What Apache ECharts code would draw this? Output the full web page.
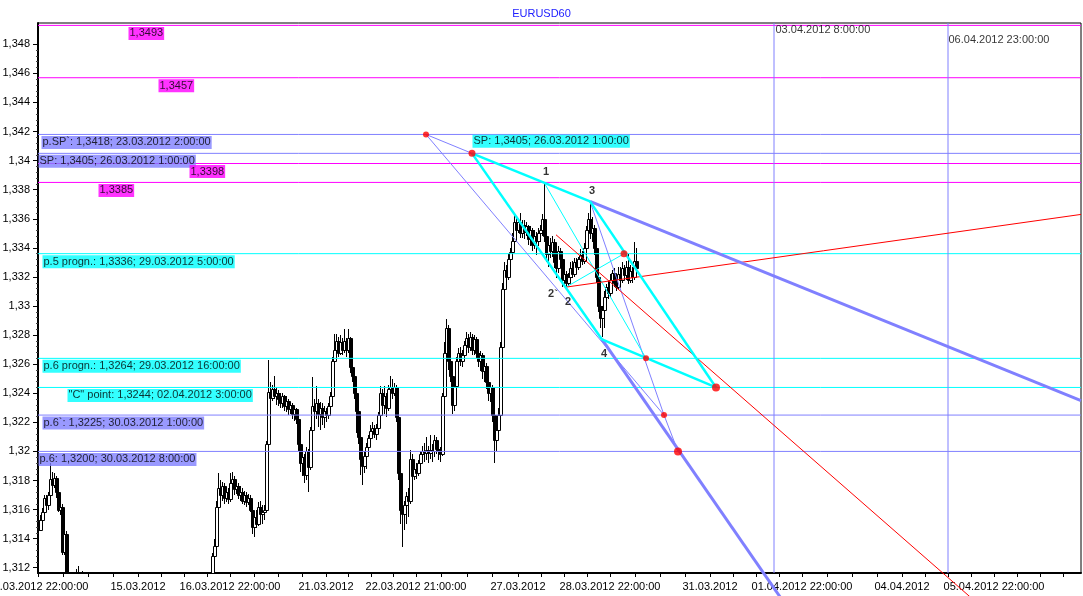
<!DOCTYPE html>
<html>
<head>
<meta charset="utf-8">
<script src="https://cdn.jsdelivr.net/npm/echarts@6/dist/echarts.min.js"></script>
<style>html,body{margin:0;padding:0;background:#fff}#c{width:1083px;height:596px}</style>
</head>
<body>
<div id="c"></div>
<script>
// ---------------- DATA ----------------
// Hourly bars (trading-hour index; weekends skipped). Segments of bars that are visible.
const barSegments = [[0,14],[19,20],[22,22],[69,69],[87,299]];
// Prices in pips above 1.3000 (e.g. 148 -> 1.3148)
const opens = [
153,146,153,158,168,163,170,181,177,182,172,160,162,131,143,
100,104,101,95,
100,128,135,162,175,170,176,168,172,167,
178,181,174,176,170,172,166,170,165,168,
160,148,155,150,162,157,158,160,205,241,
237,243,238,240,236,233,238,231,235,229,
232,226,229,222,205,192,196,184,200,189,
215,231,228,233,226,230,224,228,225,231,
238,262,270,276,268,275,270,276,270,278,
258,252,240,228,210,195,190,197,203,209,
214,216,212,216,225,240,232,238,230,243,
244,240,244,224,185,160,157,163,169,166,
195,183,188,185,192,198,200,199,201,199,
201,200,208,202,200,198,238,268,285,262,
252,232,245,262,268,262,266,273,278,272,
279,270,277,268,262,266,255,259,248,240,
244,225,208,215,225,272,312,325,320,332,
337,345,358,352,358,350,356,351,355,346,
352,342,348,345,350,352,360,348,336,342,
338,344,330,326,338,332,318,322,316,320,
326,322,330,327,332,335,331,340,352,360,
350,354,340,320,300,292,297,306,313,309,
318,323,316,313,322,318,326,321,327,318,
324,320,331];
const highs = [
155,156,161,170,170,172,192,186,185,183,174,165,164,150,145,
119,121,118,117,
130,140,166,185,180,179,178,174,175,185,
186,183,180,178,176,175,173,172,171,170,
162,158,160,165,166,163,163,207,263,248,
246,252,244,242,240,240,239,238,236,234,
233,231,230,224,208,199,198,203,202,217,
251,236,245,236,234,233,231,230,233,241,
265,281,281,279,280,278,284,278,284,279,
262,255,242,230,214,199,200,206,211,218,
220,218,219,227,245,243,245,240,246,252,
250,247,246,226,188,164,166,172,175,201,
198,190,192,194,200,204,206,210,204,211,
205,211,210,205,203,240,275,291,287,266,
255,248,265,271,272,270,276,282,281,282,
281,280,279,272,269,268,263,261,252,247,
246,228,220,230,275,316,330,328,336,340,
350,364,362,360,364,359,359,358,356,355,
354,352,351,354,356,363,385,351,345,347,
348,346,334,341,340,336,325,324,323,330,
331,333,333,334,339,338,343,355,364,372,
361,356,343,322,305,300,310,315,317,322,
325,326,320,327,327,330,328,331,336,328,
327,344,340];
const lows = [
144,145,150,156,160,160,168,173,175,168,158,156,129,129,105,
95,98,96,90,
95,125,133,160,165,166,164,165,164,165,
174,170,171,167,166,164,163,162,163,158,
143,141,147,149,152,150,153,158,203,234,
235,236,232,231,230,230,228,227,225,226,
222,221,219,200,186,183,178,180,172,187,
213,224,222,217,215,218,216,220,222,229,
236,259,266,265,266,266,268,265,268,254,
248,236,213,205,184,177,185,188,200,205,
210,209,208,213,222,229,226,224,228,239,
236,238,220,180,150,134,146,150,155,164,
180,180,181,183,188,192,193,194,192,195,
193,196,198,194,193,197,236,264,256,248,
226,228,240,258,259,258,262,270,268,269,
266,266,264,258,255,250,248,243,235,234,
220,192,200,210,222,270,308,316,318,328,
334,343,349,350,347,347,346,348,342,341,
338,339,335,341,344,348,344,330,327,333,
334,326,319,323,328,313,313,313,314,317,
319,320,324,325,330,328,329,336,348,346,
344,335,316,296,285,279,285,300,305,306,
314,313,310,311,314,316,318,318,315,316,
316,318,322];
const closes = [
146,153,158,168,163,170,181,177,182,172,160,162,131,143,110,
104,101,99,98,
128,135,162,175,170,176,168,172,167,178,
181,174,176,170,172,166,170,165,168,160,
148,155,150,162,157,158,160,205,241,237,
243,238,240,236,233,238,231,235,229,232,
226,229,222,205,192,196,184,200,189,215,
231,228,233,226,230,224,228,225,231,238,
262,270,276,268,275,270,276,270,278,258,
252,240,228,210,195,190,197,203,209,214,
216,212,216,225,240,232,238,230,243,244,
240,244,224,185,160,157,163,169,166,195,
183,188,185,192,198,200,199,201,199,201,
200,208,202,200,198,238,268,285,262,252,
232,245,262,268,262,266,273,278,272,279,
270,277,268,262,266,255,259,248,240,244,
225,208,215,225,272,312,325,320,332,337,
345,358,352,358,350,356,351,355,346,352,
342,348,345,350,352,360,348,336,342,338,
344,330,326,338,332,318,322,316,320,326,
322,330,327,332,335,331,340,352,360,350,
354,340,320,300,292,297,306,313,309,318,
323,316,313,322,318,326,321,327,318,324,
320,331,326];

// Axis ticks
const xTickHours = [0,50,96,144,189,240,286,336,382,432,478];
const xTickLabels = ['12.03.2012 22:00:00','15.03.2012','16.03.2012 22:00:00','21.03.2012','22.03.2012 21:00:00','27.03.2012','28.03.2012 22:00:00','31.03.2012','01.04.2012 22:00:00','04.04.2012','05.04.2012 22:00:00'];
const yTicks = [1.312,1.314,1.316,1.318,1.32,1.322,1.324,1.326,1.328,1.33,1.332,1.334,1.336,1.338,1.34,1.342,1.344,1.346,1.348];
const yTickLabels = ['1,312','1,314','1,316','1,318','1,32','1,322','1,324','1,326','1,328','1,33','1,332','1,334','1,336','1,338','1,34','1,342','1,344','1,346','1,348'];

// Horizontal levels
const levels = [1.3493,1.3457,1.3418,1.3405,1.3398,1.3385,1.3336,1.3264,1.3244,1.3225,1.3200];
const levelKind = ['m','m','b','b','m','m','c','c','c','b','b'];
const levelText = ['1,3493','1,3457','p.SP`: 1,3418; 23.03.2012 2:00:00','SP: 1,3405; 26.03.2012 1:00:00','1,3398','1,3385','p.5 progn.: 1,3336; 29.03.2012 5:00:00','p.6 progn.: 1,3264; 29.03.2012 16:00:00','"C" point: 1,3244; 02.04.2012 3:00:00','p.6`: 1,3225; 30.03.2012 1:00:00','p.6: 1,3200; 30.03.2012 8:00:00'];
const levelLabelHour = [45,60,1.5,0,75.5,30,2,2,14.5,2,0];

// Key points of the construction
const ptName  = ['pSP`','SP','1','2','3','4','p5','p6progn','p6`','p6','C'];
const ptHour  = [194,217,253,264,276,282,293,304,313,320,339];
const ptValue = [1.3418,1.3405,1.3385,1.3313,1.3372,1.3277,1.3336,1.3264,1.3225,1.3200,1.3244];
const redDots = ['pSP`','SP','p5','p6progn','p6`','p6','C'];

const thickCyanLines = [['SP','3'],['SP','4'],['4','C'],['3','C']];
const thinCyanLines  = [['1','p6progn'],['2','p5']];
const thinBlueLines  = [['pSP`','SP'],['pSP`','p6`'],['3','p6`'],['p6`','p6']];
const thickBlueRays  = [[[276,1.3372],[521.5,1.3235]],[[282,1.3277],[371,1.3100]]];
const redRays        = [[[259,1.3349],[466,1.3100]],[[264,1.3313],[521.5,1.3363]]];

const pointLabelText = ['1','2`','2','3','4'];
const pointLabelAt   = ['1','2','2','3','4'];

const vLineHours = [368,455];
const vLineText  = ['03.04.2012 8:00:00','06.04.2012 23:00:00'];

// ---------------- STYLE ----------------
const FONT = '"Liberation Sans", Arial, sans-serif';
const COL = {m:'#ff00ff', b:'#8080ff', c:'#00ffff', red:'#ff0000'};
const X_MIN = 0, X_MAX = 521.5;
const Y_MIN = 1.311638, Y_MAX = 1.349465;
const pointLabelOffset = [[2,-10],[-13,7],[2,15],[2,-10],[2,15]];
const vLineLabelOffset = [[1,7],[0,17]];
const dotSize = {'pSP`':6,'SP':7,'p5':7,'p6progn':6,'p6`':6,'p6':8,'C':8};
const BODY_W = 3;

// ---------------- BUILD ----------------
const hours = [];
barSegments.forEach(([a,b]) => { for (let h = a; h <= b; h++) hours.push(h); });
const pv = p => 1.3 + p / 10000;
const candles = hours.map((h,i) => [h, pv(opens[i]), pv(closes[i]), pv(lows[i]), pv(highs[i])]);
if (hours.length !== opens.length || opens.length !== highs.length || highs.length !== lows.length || lows.length !== closes.length) {
  console.error('length mismatch', hours.length, opens.length, highs.length, lows.length, closes.length);
}
const P = {};
ptName.forEach((n,i) => { P[n] = [ptHour[i], ptValue[i]]; });

const xTicksAll = [];
for (let i = 0; i < xTickHours.length - 1; i++) {
  const a = xTickHours[i], b = xTickHours[i+1];
  for (let k = 0; k < 4; k++) xTicksAll.push(a + (b - a) * k / 4);
}
{
  const last = xTickHours[xTickHours.length-1];
  const step = (last - xTickHours[xTickHours.length-2]) / 4;
  for (let t = last; t <= X_MAX; t += step) xTicksAll.push(t);
}
const yMinor = [];
for (let i = 0; i < yTicks.length - 1; i++) {
  for (let k = 1; k < 5; k++) yMinor.push(yTicks[i] + (yTicks[i+1] - yTicks[i]) * k / 5);
}

function renderCandle(params, api) {
  const cs = params.coordSys;
  const top = cs.y, bot = cs.y + cs.height;
  const h = api.value(0), o = api.value(1), c = api.value(2), l = api.value(3), hi = api.value(4);
  const cx = Math.round(api.coord([h, o])[0]) + 0.5;
  const yO = api.coord([h, o])[1], yC = api.coord([h, c])[1];
  const yL = api.coord([h, l])[1], yH = api.coord([h, hi])[1];
  const clamp = y => Math.max(top, Math.min(bot, y));
  if (yH > bot || yL < top) return null;
  const bTop = Math.round(clamp(Math.min(yO, yC))) + 0.5;
  const bBot = Math.round(clamp(Math.max(yO, yC))) + 0.5;
  const wTop = Math.round(clamp(yH)), wBot = Math.round(clamp(yL));
  const bear = c < o;
  const children = [];
  if (wTop < bTop) children.push({type:'line', shape:{x1:cx, y1:wTop, x2:cx, y2:bTop}, style:{stroke:'#000', lineWidth:1}});
  if (wBot > bBot) children.push({type:'line', shape:{x1:cx, y1:bBot, x2:cx, y2:wBot}, style:{stroke:'#000', lineWidth:1}});
  children.push({type:'rect', shape:{x:cx - 1, y:bTop, width:BODY_W, height:Math.max(bBot - bTop, 0)},
    style:{fill: bear ? '#000' : '#fff', stroke:'#000', lineWidth:1}});
  return {type:'group', children};
}

const series = [];
series.push({
  type:'custom', data:candles, renderItem:renderCandle, z:2, silent:true, clip:true,
  encode:{x:0, y:[1,2,3,4]}
});
levels.forEach((v,i) => series.push({
  type:'line', data:[[X_MIN,v],[X_MAX,v]], symbol:'none', silent:true, z:3,
  lineStyle:{color:COL[levelKind[i]], width:1}
}));
vLineHours.forEach(h => series.push({
  type:'line', data:[[h,Y_MIN],[h,Y_MAX]], symbol:'none', silent:true, z:3,
  lineStyle:{color:COL.b, width:1}
}));
function seg(list, color, width) {
  list.forEach(pair => series.push({
    type:'line', data:pair.map(p => Array.isArray(p) ? p : P[p]), symbol:'none', silent:true, z:4, clip:false,
    lineStyle:{color, width}
  }));
}
seg(thinBlueLines, COL.b, 1);
seg(thinCyanLines, COL.c, 1);
seg(redRays, COL.red, 1);
seg(thickBlueRays, COL.b, 3);
seg(thickCyanLines, COL.c, 2.5);
series.push({
  type:'scatter', z:6, silent:true,
  data: redDots.map(n => P[n]),
  symbolSize: (val, params) => dotSize[redDots[params.dataIndex]],
  itemStyle:{color:COL.red}
});
series.push({
  type:'scatter', z:7, silent:true, symbolSize:1,
  itemStyle:{color:'transparent'},
  data: levels.map((v,i) => ({
    value:[levelLabelHour[i], v],
    label:{backgroundColor:COL[levelKind[i]]}
  })),
  label:{
    show:true, position:'right', distance:0, offset:[0,8],
    formatter: p => levelText[p.dataIndex],
    color:'#000', fontSize:11, fontFamily:FONT, lineHeight:12, padding:[1,1,0,1]
  }
});
series.push({
  type:'scatter', z:7, silent:true, symbolSize:1, itemStyle:{color:'transparent'},
  data:[P['SP']],
  label:{show:true, position:'right', distance:0, offset:[0,-12], formatter:levelText[3],
    backgroundColor:COL.c, color:'#000', fontSize:11, fontFamily:FONT, lineHeight:12, padding:[1,1,0,1]}
});
series.push({
  type:'scatter', z:7, silent:true, symbolSize:1, itemStyle:{color:'transparent'},
  data: pointLabelAt.map((n,i) => ({value:P[n], label:{offset:pointLabelOffset[i]}})),
  label:{show:true, position:'inside', formatter:p => pointLabelText[p.dataIndex],
    color:'#000', fontSize:11, fontWeight:'bold', fontFamily:FONT}
});
series.push({
  type:'scatter', z:7, silent:true, symbolSize:1, itemStyle:{color:'transparent'},
  data: vLineHours.map((h,i) => ({value:[h, Y_MAX], label:{offset:vLineLabelOffset[i]}})),
  label:{show:true, position:'right', distance:0, formatter:p => vLineText[p.dataIndex],
    color:'#000', fontSize:11, fontFamily:FONT}
});

const chart = echarts.init(document.getElementById('c'), null, {renderer:'canvas'});
chart.setOption({
  animation:false,
  backgroundColor:'#ffffff',
  title:{text:'EURUSD60', left:'center', top:3, textStyle:{color:'#2020ff', fontSize:11, fontWeight:'normal', fontFamily:FONT}},
  grid:{left:38, right:2, top:23, bottom:23, show:true, borderColor:'#000', borderWidth:1, backgroundColor:'transparent',
        containLabel:false, outerBoundsMode:'none'},
  xAxis:{
    type:'value', min:X_MIN, max:X_MAX,
    axisLine:{show:true, onZero:false, lineStyle:{color:'#000', width:2}},
    axisTick:{show:true, customValues:xTicksAll, length:4, lineStyle:{color:'#000', width:1}},
    axisLabel:{customValues:xTickHours, formatter:v => { const i = xTickHours.indexOf(Math.round(v)); return i >= 0 ? xTickLabels[i] : ''; },
      color:'#000', fontSize:11, fontFamily:FONT, margin:8, hideOverlap:false},
    splitLine:{show:false}
  },
  yAxis:[{
    type:'value', min:Y_MIN, max:Y_MAX,
    axisLine:{show:true, onZero:false, lineStyle:{color:'#000', width:2}},
    axisTick:{show:true, customValues:yTicks, length:5, lineStyle:{color:'#000', width:1}},
    axisLabel:{customValues:yTicks, formatter:v => { let best=0; yTicks.forEach((t,i)=>{ if (Math.abs(t-v) < Math.abs(yTicks[best]-v)) best=i; }); return yTickLabels[best]; },
      color:'#000', fontSize:11, fontFamily:FONT, margin:8},
    splitLine:{show:false}
  },{
    type:'value', min:Y_MIN, max:Y_MAX, position:'left', offset:0,
    axisLine:{show:false},
    axisTick:{show:true, customValues:yMinor, length:2, lineStyle:{color:'#444', width:1}},
    axisLabel:{show:false}, splitLine:{show:false}
  }],
  series: series
});
</script>
</body>
</html>
